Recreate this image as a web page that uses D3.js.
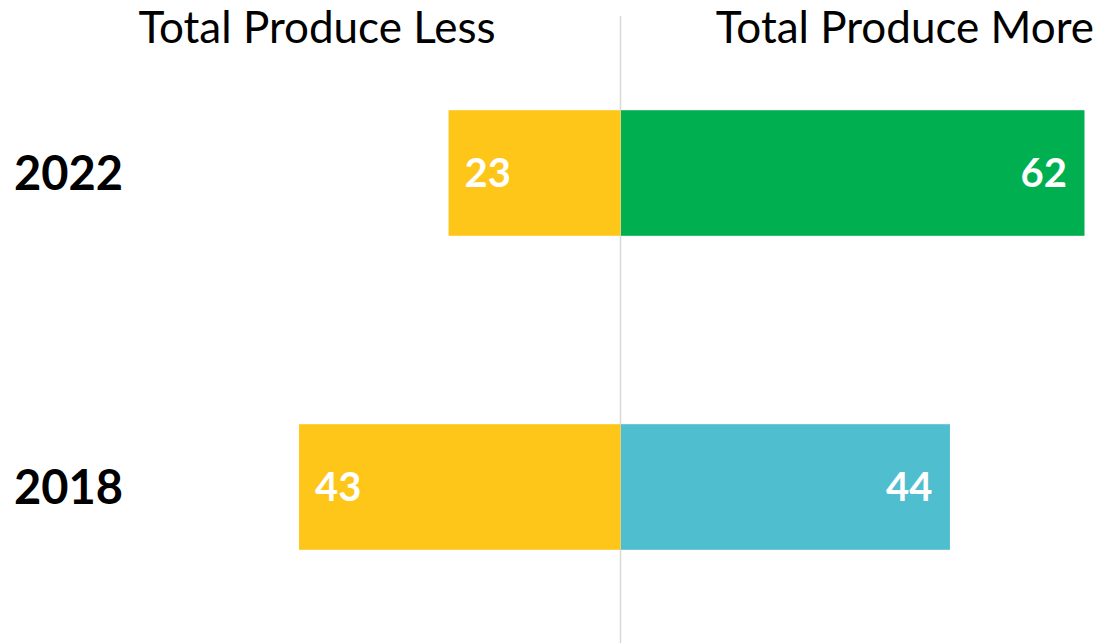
<!DOCTYPE html>
<html><head><meta charset="utf-8">
<script src="https://cdn.jsdelivr.net/npm/d3@7"></script>
<style>body{margin:0;background:#fff}svg{display:block}</style>
</head><body>
<script>
const years = ["2022", "2018"];
const lessValues = [23, 43];
const moreValues = [62, 44];
const moreColors = ["#00B050", "#4FBECE"];
const lessColor = "#FEC619";
const headers = ["Total Produce Less", "Total Produce More"];

const W = 1099, H = 643, cx = 620.5;
const font = "Lato, 'Open Sans', sans-serif";
const svg = d3.select("body").append("svg").attr("width", W).attr("height", H);

const len = d3.scaleLinear().domain([0, 62]).range([0, 463.5]);
const y = d3.scaleBand().domain(years).range([16, 644]).paddingInner(0.6).paddingOuter(0.3);

// center line
svg.append("line").attr("x1", cx).attr("x2", cx).attr("y1", 16).attr("y2", H)
  .attr("stroke", "#d9d9d9").attr("stroke-width", 1.5);

const g = svg.selectAll("g.row").data(years).enter().append("g");
g.append("rect").attr("x", (d,i) => cx - len(lessValues[i])).attr("y", d => y(d))
  .attr("width", (d,i) => len(lessValues[i])).attr("height", y.bandwidth()).attr("fill", lessColor);
g.append("rect").attr("x", cx + 0.5).attr("y", d => y(d))
  .attr("width", (d,i) => len(moreValues[i])).attr("height", y.bandwidth()).attr("fill", (d,i) => moreColors[i]);

g.append("text").attr("x", (d,i) => cx - len(lessValues[i]) + 16).attr("y", d => y(d) + y.bandwidth()/2)
  .attr("dy", "0.36em").attr("fill", "#fff").attr("font-family", font).attr("font-weight", "bold")
  .attr("font-size", 40).text((d,i) => lessValues[i]);
g.append("text").attr("x", (d,i) => cx + len(moreValues[i]) - 17).attr("y", d => y(d) + y.bandwidth()/2)
  .attr("dy", "0.36em").attr("text-anchor", "end").attr("fill", "#fff").attr("font-family", font).attr("font-weight", "bold")
  .attr("font-size", 40).text((d,i) => moreValues[i]);

g.append("text").attr("x", 14).attr("y", d => y(d) + y.bandwidth()/2).attr("dy", "0.36em")
  .attr("fill", "#000").attr("font-family", font).attr("font-weight", "bold").attr("font-size", 47).text(d => d);

svg.append("text").attr("x", 317).attr("y", 43).attr("text-anchor", "middle").attr("font-family", font)
  .attr("font-size", 44).attr("fill", "#000").text(headers[0]);
svg.append("text").attr("x", 1094).attr("y", 43).attr("text-anchor", "end").attr("font-family", font)
  .attr("font-size", 44).attr("fill", "#000").text(headers[1]);
</script>
</body></html>
